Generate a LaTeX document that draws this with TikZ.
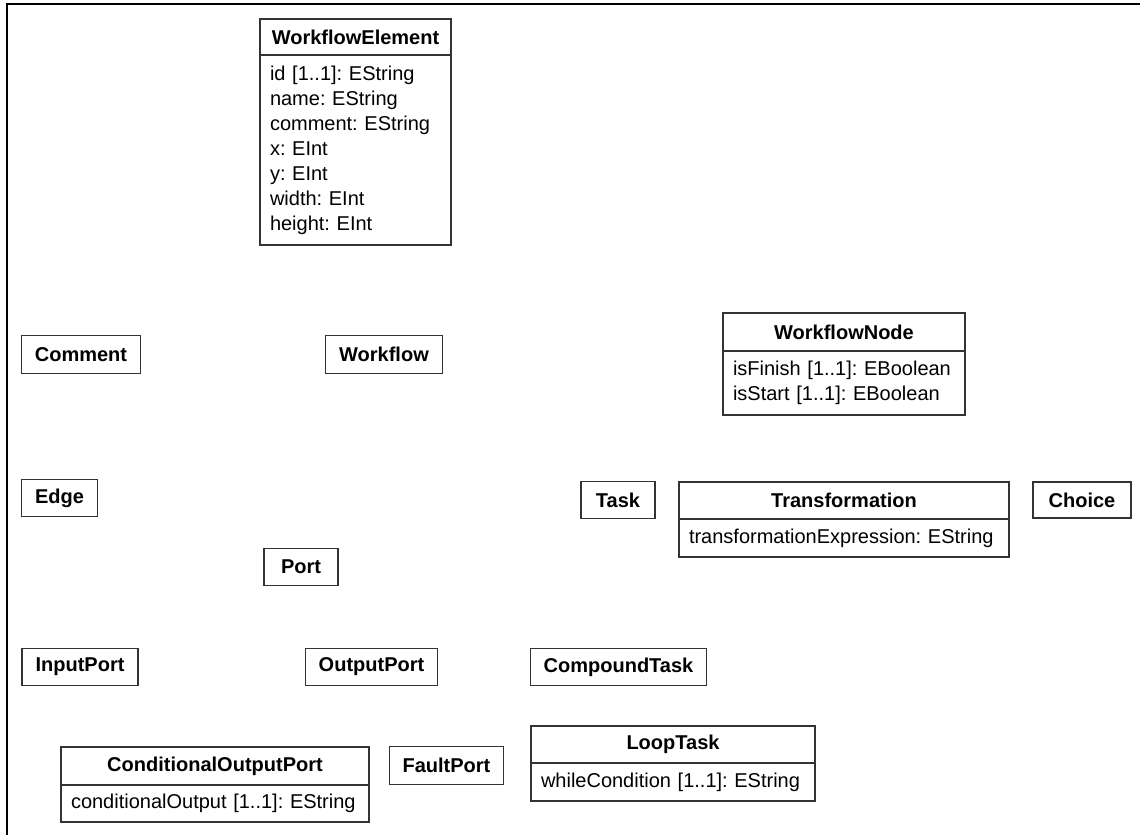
\documentclass[tikz,border=0pt]{standalone}
\usepackage{fontspec}
\setmainfont{Liberation Sans}
\frenchspacing
\usetikzlibrary{shapes,positioning}
\tikzset{
	clsNode/.style={
		draw=black!80,
		line width=0.6pt,
		fill=white,
		text=black,
		outer sep=0pt,
		inner xsep=6.75pt,
		inner ysep=2pt,
		minimum height=18.75pt,
		minimum width=37pt,
		font=\fontsize{10}{12.5}\selectfont\bfseries
	},
	clsHead/.style={
		clsNode,
		inner xsep=4pt,
		minimum width=#1
	},
	clsAttr/.style={
		draw=black!80,
		line width=0.6pt,
		fill=white,
		text=black,
		outer sep=0pt,
		inner xsep=5pt,
		inner ysep=2pt,
		align=left,
		text width=#1,
		execute at begin node={\hyphenpenalty=10000 },
		font=\fontsize{10}{12.5}\selectfont
	},
	frameLine/.style={
		draw=black,
		line width=0.9pt
	},
}

\begin{document}
\begin{tikzpicture}[x=0.5pt, y=-0.5pt]
\useasboundingbox (0,0) rectangle (1140,835);
\draw[frameLine] (1140,4) -- (7,4) -- (7,835);

% classes with attributes
\node[clsHead=95.5pt, minimum height=18pt] (WE) at (355.5,37){WorkflowElement};
\node[clsAttr=85.5pt, minimum height=95pt, below=0pt of WE] (WEattr){id [1..1]: EString\\
    name: EString\\ comment: EString\\ x: EInt\\ y: EInt\\ width: EInt\\ height: EInt};

\node[clsHead=121pt, minimum height=19pt] (WN) at (844,332){WorkflowNode};
\node[clsAttr=111pt, minimum height=32pt, below=0pt of WN] (WNattr){isFinish [1..1]: EBoolean\\
    isStart [1..1]: EBoolean};

\node[clsHead=165pt, minimum height=18.5pt] (TR) at (844,500.5){Transformation};
\node[clsAttr=155pt, minimum height=19pt, below=0pt of TR] (TRattr){transformationExpression: EString};

\node[clsHead=154pt, minimum height=19pt] (COP) at (215,766){ConditionalOutputPort};
\node[clsAttr=144pt, minimum height=18.5pt, below=0pt of COP] (COPattr){conditionalOutput [1..1]: EString};

\node[clsHead=142pt, minimum height=18.5pt] (LT) at (673,744.5){LoopTask};
\node[clsAttr=132pt, minimum height=19pt, below=0pt of LT] (LTattr){whileCondition [1..1]: EString};

% plain classes
\node[clsNode] (CM) at (81,354.5){Comment};
\node[clsNode] (WF) at (384,354.5){Workflow};
\node[clsNode] (ED) at (59.5,498){Edge};
\node[clsNode] (TK) at (618,500){Task};
\node[clsNode, minimum width=49pt, minimum height=18pt] (CH) at (1082,500){Choice};
\node[clsNode] (PT) at (301,567){Port};
\node[clsNode] (IP) at (80,667){InputPort};
\node[clsNode] (OP) at (371.5,667){OutputPort};
\node[clsNode] (CT) at (618.5,667){CompoundTask};
\node[clsNode] (FP) at (446.5,765.5){FaultPort};

\end{tikzpicture}
\end{document}
